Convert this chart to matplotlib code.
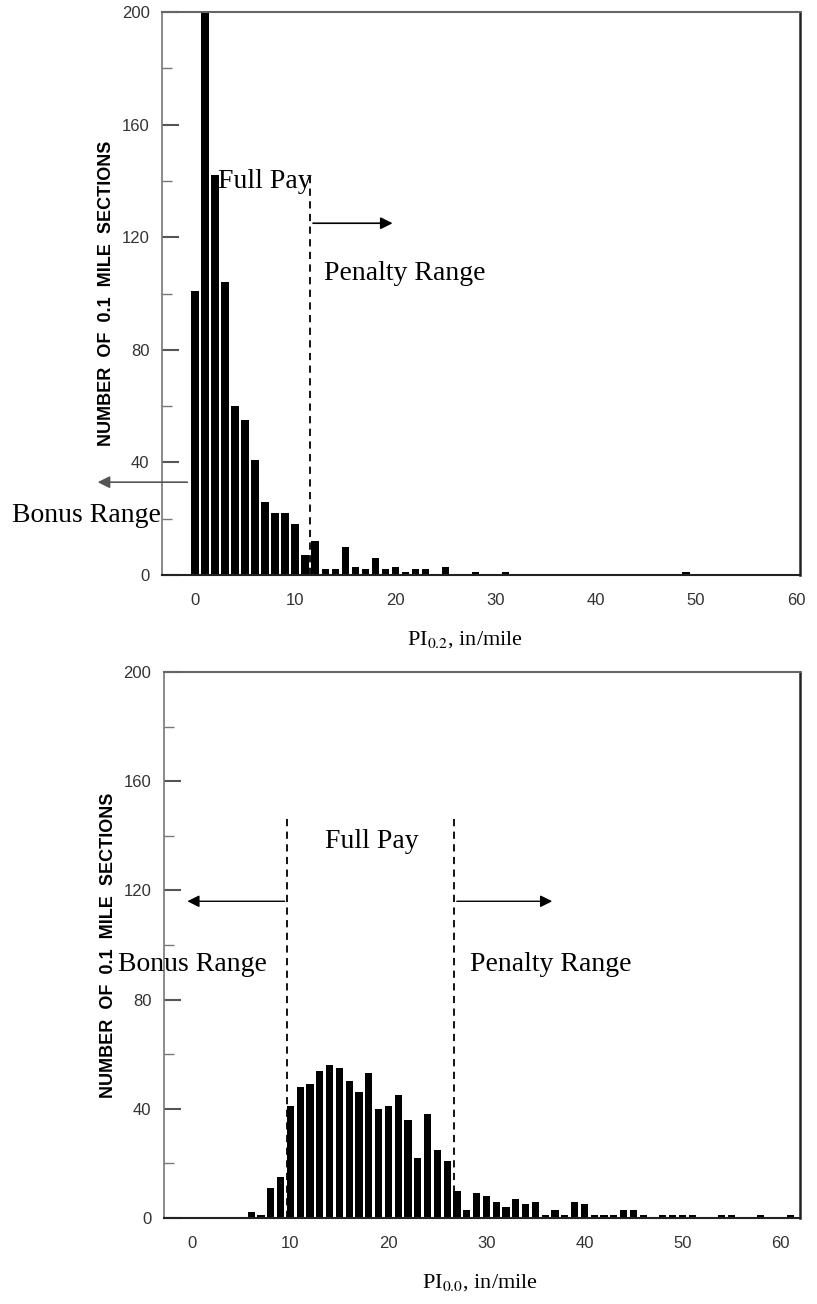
import numpy as np
import matplotlib
matplotlib.use('Agg')
import matplotlib.pyplot as plt
from matplotlib.ticker import MultipleLocator

plt.rcParams['font.family'] = ['Liberation Sans', 'DejaVu Sans']
plt.rcParams['mathtext.fontset'] = 'stix'

# PI_0.2 histogram (count of 0.1 mile sections per 1 in/mile bin)
pi02_bins = list(range(50))
pi02_counts = [101, 212, 142, 104, 60, 55, 41, 26, 22, 22,
               18, 7, 12, 2, 2, 10, 3, 2, 6, 2,
               3, 1, 2, 2, 0, 3, 0, 0, 1, 0,
               0, 1, 0, 0, 0, 0, 0, 0, 0, 0,
               0, 0, 0, 0, 0, 0, 0, 0, 0, 1]

# PI_0.0 histogram
pi00_bins = list(range(62))
pi00_counts = [0, 0, 0, 0, 0, 0, 2, 1, 11, 15,
               41, 48, 49, 54, 56, 55, 50, 46, 53, 40,
               41, 45, 36, 22, 38, 25, 21, 10, 3, 9,
               8, 6, 4, 7, 5, 6, 1, 3, 1, 6,
               5, 1, 1, 1, 3, 3, 1, 0, 1, 1,
               1, 1, 0, 0, 1, 1, 0, 0, 1, 0,
               0, 1]

x_ticks = [0, 10, 20, 30, 40, 50, 60]
y_ticks = [0, 40, 80, 120, 160, 200]

serif = ['Liberation Serif', 'DejaVu Serif']
dash = (0, (4, 3))


def style_axes(ax, xlim):
    ax.set_xlim(*xlim)
    ax.set_ylim(0, 200)
    ax.set_xticks(x_ticks)
    ax.set_xticklabels([str(t) for t in x_ticks])
    ax.set_yticks(y_ticks)
    ax.yaxis.set_minor_locator(MultipleLocator(20))
    ax.tick_params(axis='y', which='major', direction='in', length=12, width=1.5,
                   color='#555555', pad=9, labelsize=12, labelcolor='#333333')
    ax.tick_params(axis='y', which='minor', direction='in', length=7, width=1,
                   color='#777777')
    ax.tick_params(axis='x', length=0, pad=13, labelsize=12, labelcolor='#333333')
    ax.spines['left'].set_color('#777777')
    ax.spines['left'].set_linewidth(1.2)
    ax.spines['top'].set_color('#666666')
    ax.spines['top'].set_linewidth(1.5)
    ax.spines['bottom'].set_color('#222222')
    ax.spines['bottom'].set_linewidth(1.5)
    ax.spines['right'].set_color('#222222')
    ax.spines['right'].set_linewidth(1.8)
    ax.set_ylabel('NUMBER  OF  0.1  MILE  SECTIONS', fontsize=13, fontweight='bold')
    ax.yaxis.set_label_coords(-0.074, 0.5)


fig = plt.figure(figsize=(8.17, 13.04), dpi=100)
ax1 = fig.add_axes([0.1983, 0.5590, 0.7809, 0.4317])
ax2 = fig.add_axes([0.2007, 0.0660, 0.7785, 0.4187])

# top chart
ax1.bar(pi02_bins, pi02_counts, width=0.75, color='black')
style_axes(ax1, (-3.3, 60.4))
ax1.vlines(11.5, 0, 142.5, colors='black', linestyles=dash, lw=1.3)
ax1.annotate('', xy=(20, 125), xytext=(11.5, 125),
             arrowprops=dict(arrowstyle='-|>', color='black', lw=1.2, mutation_scale=18))
ax1.annotate('', xy=(-10, 33), xytext=(-0.5, 33), annotation_clip=False,
             arrowprops=dict(arrowstyle='-|>', color='#555555', lw=1.2, mutation_scale=18))
ax1.text(2.3, 140, 'Full Pay', family=serif, fontsize=20, va='center')
ax1.text(12.9, 107, 'Penalty Range', family=serif, fontsize=20, va='center')
ax1.text(-18.3, 21, 'Bonus Range', family=serif, fontsize=20, va='center')

# bottom chart
ax2.bar(pi00_bins, pi00_counts, width=0.75, color='black')
style_axes(ax2, (-2.9, 62.0))
ax2.vlines([9.7, 26.7], 0, 148, colors='black', linestyles=dash, lw=1.3)
ax2.annotate('', xy=(-0.8, 116), xytext=(9.7, 116),
             arrowprops=dict(arrowstyle='-|>', color='black', lw=1.0, mutation_scale=18))
ax2.annotate('', xy=(37, 116), xytext=(26.7, 116),
             arrowprops=dict(arrowstyle='-|>', color='black', lw=1.0, mutation_scale=18))
ax2.text(13.5, 138, 'Full Pay', family=serif, fontsize=20, va='center')
ax2.text(-7.6, 93, 'Bonus Range', family=serif, fontsize=20, va='center')
ax2.text(28.3, 93, 'Penalty Range', family=serif, fontsize=20, va='center')

fig.text(0.569, 1 - 640 / 1304, 'PI$_{0.2}$, in/mile', family=serif, fontsize=16,
         ha='center', va='center')
fig.text(0.5875, 1 - 1283 / 1304, 'PI$_{0.0}$, in/mile', family=serif, fontsize=16,
         ha='center', va='center')

fig.savefig('out.png', dpi=100, facecolor='white')
